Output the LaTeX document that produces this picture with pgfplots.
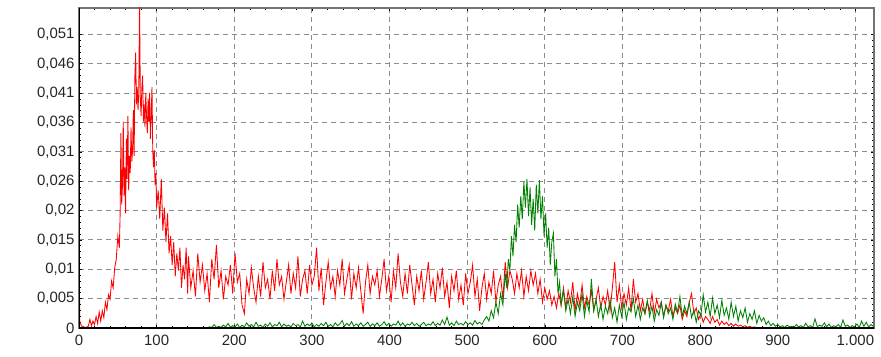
\documentclass[border=0pt]{standalone}
\usepackage{pgfplots}
\pgfplotsset{compat=1.18}
\usepackage{fontspec}
\setmainfont{Liberation Sans}
\definecolor{gridgray}{RGB}{140,140,140}
\definecolor{dgreen}{RGB}{0,128,0}
\begin{document}
\begin{tikzpicture}
\begin{axis}[name=ax, scale only axis, width=795bp, height=320bp,
 xmin=0, xmax=1024, ymin=0, ymax=0.0558,
 xtick={0,100,...,1000}, xticklabels={0,100,200,300,400,500,600,700,800,900,1.000},
 ytick={0,0.00512,0.01024,0.01536,0.02048,0.0256,0.03072,0.03584,0.04096,0.04608,0.0512},
 yticklabels={0,{0,005},{0,01},{0,015},{0,02},{0,026},{0,031},{0,036},{0,041},{0,046},{0,051}},
 minor x tick num=4, minor y tick num=4,
 grid=major, major grid style={gridgray, dash pattern=on 5bp off 4bp, line width=0.9bp},
 axis line style={draw=gray!90!black, line width=1.3bp},
 tick style={black, line width=0.6bp}, major tick length=3bp, minor tick length=2bp,
 ticklabel style={font=\fontsize{15}{15}\selectfont, text=black!85},
 yticklabel style={xshift=-1bp},
 xticklabel style={yshift=-4bp},
]
\addplot[red, line width=0.85bp, mark=none] coordinates {
(0,0.0160)(1,0.0012)(3,0.0004)(6,0.0002)(9,0.0001)(12,0.0003)(14,0.0015)(16,0.0004)(18,0.0012)(20,0.0006)
(22,0.0020)(24,0.0008)(26,0.0028)(28,0.0012)(30,0.0030)(32,0.0018)(34,0.0045)(36,0.0032)(38,0.0058)(40,0.0050)
(42,0.0082)(44,0.0070)(46,0.0105)(48,0.0120)(50,0.0160)(52,0.0140)(53,0.0200)(54,0.0340)(55,0.0215)(56,0.0250)
(57,0.0360)(58,0.0230)(59,0.0280)(60,0.0200)(61,0.0330)(62,0.0260)(63,0.0370)(64,0.0240)(65,0.0300)(66,0.0270)
(67,0.0350)(68,0.0290)(69,0.0310)(70,0.0380)(71,0.0300)(72,0.0440)(73,0.0480)(74,0.0390)(75,0.0420)(76,0.0380)
(77,0.0410)(78,0.0570)(79,0.0400)(80,0.0370)(81,0.0420)(82,0.0440)(83,0.0360)(84,0.0390)(85,0.0350)(86,0.0410)
(87,0.0370)(88,0.0340)(89,0.0400)(90,0.0360)(91,0.0410)(92,0.0330)(93,0.0370)(94,0.0420)(95,0.0310)(96,0.0280)
(97,0.0310)(98,0.0250)(99,0.0270)(100,0.0210)(102,0.0240)(104,0.0190)(106,0.0260)(108,0.0170)(110,0.0210)(112,0.0150)
(114,0.0200)(116,0.0130)(118,0.0160)(120,0.0110)(122,0.0150)(124,0.0090)(126,0.0130)(128,0.0100)(130,0.0140)(132,0.0070)
(134,0.0110)(136,0.0085)(138,0.0140)(140,0.0060)
(141,0.0125)(144,0.0070)(147,0.0100)(150,0.0055)(153,0.0130)(156,0.0080)(159,0.0110)(162,0.0065)(165,0.0095)(168,0.0045)
(171,0.0120)(174,0.0085)(177,0.0145)(180,0.0070)(183,0.0100)(186,0.0050)(189,0.0090)(192,0.0075)(195,0.0110)(198,0.0060)
(201,0.0130)(204,0.0080)(207,0.0095)(210,0.0040)(213,0.0025)(216,0.0085)(219,0.0060)(222,0.0105)(225,0.0070)(228,0.0045)
(231,0.0090)(234,0.0055)(237,0.0115)(240,0.0070)(243,0.0085)(246,0.0050)(249,0.0100)(252,0.0065)(255,0.0120)(258,0.0075)
(261,0.0090)(264,0.0050)(267,0.0080)(270,0.0110)(273,0.0060)(276,0.0095)(279,0.0070)(282,0.0125)(285,0.0055)(288,0.0085)
(291,0.0100)(294,0.0060)(297,0.0110)(300,0.0075)(303,0.0090)(306,0.0140)(309,0.0065)(312,0.0105)(315,0.0040)(318,0.0080)
(321,0.0115)(324,0.0070)(327,0.0090)(330,0.0055)(333,0.0100)(336,0.0075)(339,0.0120)(342,0.0060)(345,0.0085)(348,0.0110)
(351,0.0050)(354,0.0095)(357,0.0070)(360,0.0105)(363,0.0065)(366,0.0025)(369,0.0080)(372,0.0110)(375,0.0060)(378,0.0090)
(381,0.0075)(384,0.0100)(387,0.0055)(390,0.0085)(393,0.0120)(396,0.0065)(399,0.0090)(402,0.0045)(405,0.0100)(408,0.0070)
(411,0.0130)(414,0.0080)(417,0.0055)(420,0.0095)(423,0.0060)(426,0.0110)(429,0.0075)(432,0.0040)(435,0.0090)(438,0.0065)
(441,0.0100)(444,0.0050)(447,0.0080)(450,0.0115)(453,0.0060)(456,0.0085)(459,0.0045)(462,0.0095)(465,0.0070)(468,0.0105)
(471,0.0055)(474,0.0080)(477,0.0035)(480,0.0090)(483,0.0065)(486,0.0100)(489,0.0050)(492,0.0075)(495,0.0040)(498,0.0095)
(501,0.0060)(504,0.0080)(507,0.0110)(510,0.0055)(513,0.0085)(516,0.0030)(519,0.0070)(522,0.0095)(525,0.0050)(528,0.0080)
(531,0.0060)(534,0.0100)(537,0.0045)(540,0.0075)(543,0.0090)(546,0.0050)(549,0.0115)(552,0.0070)(555,0.0100)(558,0.0085)
(561,0.0060)(564,0.0095)(567,0.0070)(570,0.0100)(573,0.0055)(576,0.0090)(579,0.0065)(582,0.0100)(585,0.0075)(588,0.0095)
(591,0.0060)(594,0.0085)(597,0.0045)(600,0.0070)(603,0.0050)(606,0.0065)(609,0.0040)(612,0.0055)(615,0.0035)(618,0.0060)
(621,0.0040)(624,0.0070)(627,0.0035)(630,0.0065)(633,0.0045)(636,0.0080)(639,0.0030)(642,0.0060)(645,0.0040)(648,0.0075)
(651,0.0035)(654,0.0055)(657,0.0040)(660,0.0065)(663,0.0030)(666,0.0050)(669,0.0070)(672,0.0035)(675,0.0055)(678,0.0040)
(681,0.0065)(684,0.0030)(687,0.0070)(690,0.0115)(693,0.0045)(696,0.0075)(699,0.0035)(702,0.0060)(705,0.0040)(708,0.0070)
(711,0.0030)(714,0.0085)(717,0.0045)(720,0.0060)(723,0.0030)(726,0.0050)(729,0.0025)(732,0.0045)(735,0.0030)(738,0.0060)
(741,0.0025)(744,0.0050)(747,0.0035)(750,0.0045)(753,0.0020)(756,0.0040)(759,0.0030)(762,0.0050)(765,0.0020)(768,0.0035)
(771,0.0025)(774,0.0040)(777,0.0015)(780,0.0030)(783,0.0020)(786,0.0045)(789,0.0060)(792,0.0025)(795,0.0035)(798,0.0015)
(801,0.0025)(804,0.0010)(807,0.0020)(810,0.0015)(813,0.0008)(816,0.0020)(819,0.0010)(822,0.0015)(825,0.0005)(828,0.0012)
(831,0.0006)(834,0.0010)(837,0.0004)(840,0.0008)(843,0.0003)(846,0.0007)(849,0.0003)(852,0.0005)(855,0.0002)(858,0.0004)
(861,0.0001)(864,0.0003)(867,0.0001)(870,0.0002)(873,0.0000)(876,0.0001)(880,0.0000)
};
\addplot[dgreen, line width=0.85bp, mark=none] coordinates {
(0,0)(165,0)(168,0.0002)(171,0.0001)(174,0.0006)(177,0.0001)(180,0.0003)(183,0.0001)(186,0.0005)(189,0.0002)
(192,0.0008)(195,0.0001)(198,0.0004)(201,0.0002)(204,0.0007)(207,0.0001)(210,0.0005)(213,0.0002)(216,0.0009)(219,0.0003)
(222,0.0006)(225,0.0002)(228,0.0010)(231,0.0003)(234,0.0005)(237,0.0001)(240,0.0007)(243,0.0003)(246,0.0009)(249,0.0002)
(252,0.0006)(255,0.0004)(258,0.0010)(261,0.0002)(264,0.0007)(267,0.0003)(270,0.0005)(273,0.0002)(276,0.0008)(279,0.0004)
(282,0.0006)(285,0.0002)(288,0.0012)(291,0.0003)(294,0.0007)(297,0.0004)(300,0.0009)(303,0.0002)(306,0.0006)(309,0.0003)
(312,0.0008)(315,0.0004)(318,0.0010)(321,0.0003)(324,0.0006)(327,0.0002)(330,0.0009)(333,0.0004)(336,0.0007)(339,0.0013)
(342,0.0003)(345,0.0008)(348,0.0004)(351,0.0011)(354,0.0003)(357,0.0007)(360,0.0004)(363,0.0009)(366,0.0003)(369,0.0006)
(372,0.0010)(375,0.0003)(378,0.0007)(381,0.0004)(384,0.0009)(387,0.0003)(390,0.0006)(393,0.0011)(396,0.0004)(399,0.0008)
(402,0.0003)(405,0.0007)(408,0.0005)(411,0.0012)(414,0.0004)(417,0.0009)(420,0.0003)(423,0.0007)(426,0.0005)(429,0.0010)
(432,0.0004)(435,0.0008)(438,0.0003)(441,0.0006)(444,0.0010)(447,0.0004)(450,0.0007)(453,0.0005)(456,0.0011)(459,0.0004)
(462,0.0008)(465,0.0005)(468,0.0014)(471,0.0006)(474,0.0019)(477,0.0005)(480,0.0009)(483,0.0004)(486,0.0012)(489,0.0006)
(492,0.0008)(495,0.0005)(498,0.0011)(501,0.0006)(504,0.0009)(507,0.0005)(510,0.0013)(513,0.0007)(516,0.0010)(519,0.0006)
(522,0.0014)(525,0.0020)(528,0.0012)(531,0.0030)(534,0.0018)(537,0.0045)(540,0.0025)(543,0.0060)(546,0.0040)(549,0.0095)
(551,0.0070)(553,0.0120)(555,0.0100)(557,0.0160)(559,0.0125)(561,0.0180)(563,0.0150)(565,0.0215)(567,0.0175)(569,0.0230)
(571,0.0190)(573,0.0255)(575,0.0210)(577,0.0260)(579,0.0195)(581,0.0245)(583,0.0180)(585,0.0225)(587,0.0170)(589,0.0250)
(591,0.0200)(593,0.0258)(595,0.0190)(597,0.0230)(599,0.0160)(601,0.0200)(603,0.0140)(605,0.0175)(607,0.0110)(609,0.0150)
(611,0.0165)(613,0.0090)(615,0.0120)(617,0.0060)(619,0.0080)(621,0.0040)(624,0.0065)(627,0.0030)(630,0.0050)
(633,0.0025)(636,0.0055)(639,0.0020)(642,0.0045)(645,0.0030)(648,0.0060)(651,0.0020)(654,0.0048)(657,0.0028)(660,0.0085)
(663,0.0030)(666,0.0050)(669,0.0020)(672,0.0042)(675,0.0015)(678,0.0038)(681,0.0025)(684,0.0050)(687,0.0018)(690,0.0035)
(693,0.0010)(696,0.0040)(699,0.0020)(702,0.0045)(705,0.0015)(708,0.0035)(711,0.0028)(714,0.0052)(717,0.0020)(720,0.0040)
(723,0.0015)(726,0.0035)(729,0.0025)(732,0.0048)(735,0.0020)(738,0.0038)(741,0.0012)(744,0.0032)(747,0.0022)(750,0.0045)
(753,0.0018)(756,0.0040)(759,0.0025)(762,0.0035)(765,0.0015)(768,0.0042)(771,0.0028)(774,0.0055)(777,0.0020)(780,0.0038)
(783,0.0025)(786,0.0045)(789,0.0018)(792,0.0032)(795,0.0010)(798,0.0030)(801,0.0022)(804,0.0058)(807,0.0028)(810,0.0045)
(813,0.0020)(816,0.0052)(819,0.0025)(822,0.0040)(825,0.0018)(828,0.0048)(831,0.0022)(834,0.0035)(837,0.0015)(840,0.0045)
(843,0.0020)(846,0.0038)(849,0.0012)(852,0.0030)(855,0.0018)(858,0.0035)(861,0.0010)(864,0.0025)(867,0.0015)(870,0.0030)
(873,0.0008)(876,0.0022)(879,0.0012)(882,0.0018)(885,0.0006)(888,0.0012)(891,0.0004)(894,0.0008)(897,0.0003)(900,0.0006)
(903,0.0002)(906,0.0004)(909,0.0001)(912,0.0005)(915,0.0002)(918,0.0003)(921,0.0001)(924,0.0006)(927,0.0002)(930,0.0004)
(933,0.0001)(936,0.0008)(939,0.0002)(942,0.0004)(945,0.0001)(948,0.0016)(951,0.0002)(954,0.0005)(957,0.0003)(960,0.0009)
(963,0.0002)(966,0.0007)(969,0.0001)(972,0.0004)(975,0.0002)(978,0.0006)(981,0.0001)(984,0.0014)(987,0.0003)(990,0.0005)
(993,0.0001)(996,0.0004)(999,0.0002)(1002,0.0007)(1005,0.0001)(1008,0.0012)(1011,0.0003)(1014,0.0010)(1017,0.0002)(1020,0.0006)
(1023,0.0003)
};
\draw[black, line width=1.6bp] (rel axis cs:0,1) -- (rel axis cs:0,0) -- (rel axis cs:1,0);
\end{axis}
\pgfresetboundingbox
\path[use as bounding box] ([shift={(-79bp,-29bp)}]ax.south west) rectangle ([shift={(7bp,8bp)}]ax.north east);
\end{tikzpicture}
\end{document}
